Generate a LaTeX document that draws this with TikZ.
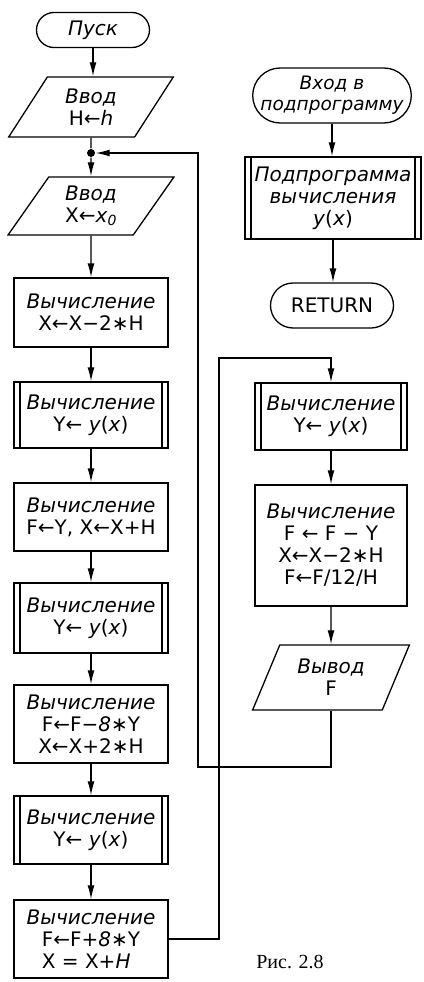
\documentclass[tikz,border=0pt]{standalone}
\usepackage{fontspec}
\setmainfont{DejaVu Sans}
\newfontfamily\capfont{Liberation Serif}
\usetikzlibrary{shapes.geometric,shapes.misc,arrows.meta,calc}
\begin{document}
\begin{tikzpicture}[x=1pt,y=-1pt, line width=1.3pt,
  every node/.style={font=\fontsize{20}{22}\selectfont, align=center, inner sep=0pt},
  stepbox/.style={draw, rectangle, minimum width=154pt},
  predef/.style={stepbox, path picture={\draw[line width=1.3pt]
      ([xshift=6pt]path picture bounding box.north west) -- ([xshift=6pt]path picture bounding box.south west)
      ([xshift=-6pt]path picture bounding box.north east) -- ([xshift=-6pt]path picture bounding box.south east);}},
  term/.style={draw, rounded rectangle},
  io/.style={draw, trapezium, trapezium left angle=58, trapezium right angle=122, trapezium stretches=true},
  flow/.style={-{Latex[length=14pt,width=7pt]}},
  junction/.style={circle, fill, minimum size=8pt},
  smalltext/.style={font=\fontsize{18.5}{21}\selectfont},
  captext/.style={font=\capfont\fontsize{20}{22}\selectfont}
]
\useasboundingbox (0,0) rectangle (423,982);

% left column
\node[term, minimum width=113pt, minimum height=35pt] (pusk) at (93,30) {\itshape Пуск};
\node[io, minimum width=166pt, minimum height=60pt] (in1) at (91,107) {\itshape Ввод\\\upshape H←\textit{h}};
\node[junction] (dot) at (91,153) {};
\node[io, minimum width=166pt, minimum height=58pt] (in2) at (91,206) {\itshape Ввод\\\upshape X←\textit{x}\textsubscript{\textit{0}}};
\node[stepbox, minimum height=69pt] (b1) at (91,312.5) {\itshape Вычисление\\\upshape X←X−2∗H};
\node[predef, minimum height=66pt] (p1) at (91,415) {\itshape Вычисление\\\upshape Y← \textit{y}(\textit{x})};
\node[stepbox, minimum height=68pt] (b2) at (91,517) {\itshape Вычисление\\\upshape F←Y, X←X+H};
\node[predef, minimum height=70pt] (p2) at (91,618) {\itshape Вычисление\\\upshape Y← \textit{y}(\textit{x})};
\node[stepbox, minimum height=78pt] (b3) at (91,724) {\itshape Вычисление\\\upshape F←F−\textit{8}∗Y\\X←X+2∗H};
\node[predef, minimum height=68pt] (p3) at (91,830) {\itshape Вычисление\\\upshape Y← \textit{y}(\textit{x})};
\node[stepbox, minimum height=78pt] (b4) at (91,939) {\itshape Вычисление\\\upshape F←F+\textit{8}∗Y\\\rlap{X = X+\textit{H}}\phantom{F←F+\textit{8}∗Y}};

% right column
\node[term, smalltext, minimum width=152pt, minimum height=55pt] (r1) at (332,95.5) {\itshape Вход в\\\itshape подпрограмму};
\node[predef, minimum width=176pt, minimum height=82pt] (r2) at (333,198) {\itshape Подпрограмма\\\itshape вычисления\\\upshape\textit{y}(\textit{x})};
\node[term, minimum width=123pt, minimum height=45pt] (r3) at (332,305.5) {RETURN};
\node[predef, minimum width=152pt, minimum height=67pt] (r4) at (331,416.5) {\itshape Вычисление\\\upshape Y← \textit{y}(\textit{x})};
\node[stepbox, minimum width=152pt, minimum height=121pt] (r5) at (331,545.5) {\itshape Вычисление\\\upshape F ← F − Y\\X←X−2∗H\\F←F/12/H};
\node[io, trapezium left angle=64, trapezium right angle=116, minimum width=157pt, minimum height=65pt] (r6) at (331,677.5) {\itshape Вывод\\\upshape F};

\node[captext] (cap) at (290,962) {Рис. 2.8};

% connectors
\coordinate (up) at (219,358);
\coordinate (back) at (198,767);
\draw[flow] (pusk.south) -- (pusk.south |- in1.north);
\draw (in1.south) -- (dot);
\draw[flow] (dot) -- (in2.north);
\draw[flow] (in2.south) -- (b1.north);
\draw[flow] (b1.south) -- (p1.north);
\draw[flow] (p1.south) -- (b2.north);
\draw[flow] (b2.south) -- (p2.north);
\draw[flow] (p2.south) -- (b3.north);
\draw[flow] (b3.south) -- (p3.north);
\draw[flow] (p3.south) -- (b4.north);
\draw[flow] (b4.east) -| (up) -| (r4.north);
\draw[flow] (r4.south) -- (r5.north);
\draw[flow] (r5.south) -- (r6.north);
\draw[flow] (r6.south) |- (back) |- (dot);
\draw[flow] (r1.south) -- (r1.south |- r2.north);
\draw[flow] (r2.south) -- (r2.south |- r3.north);
\end{tikzpicture}
\end{document}
